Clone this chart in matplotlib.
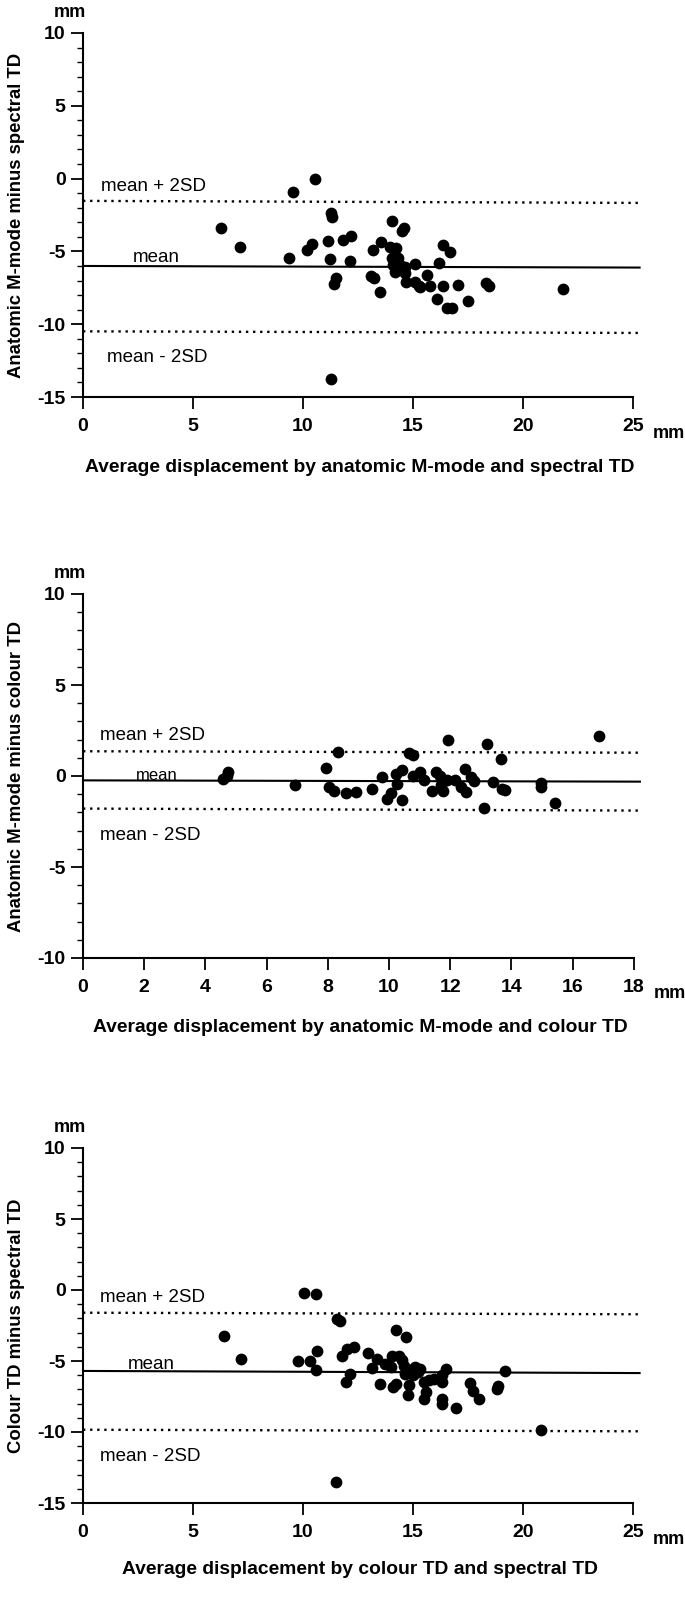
import numpy as np
import matplotlib
matplotlib.use("Agg")
import matplotlib.pyplot as plt
from matplotlib.ticker import MultipleLocator

plt.rcParams['font.family'] = ['Liberation Sans', 'DejaVu Sans']
plt.rcParams['axes.unicode_minus'] = False

# --- panel 1: anatomic M-mode minus spectral TD ---
avg_1 = [6.25, 7.12, 9.38, 9.54, 10.55, 10.18, 10.40, 11.13, 11.22, 11.25, 11.34, 11.49,
         11.39, 11.25, 11.82, 12.19, 12.15, 13.08, 13.22, 13.20, 13.55, 13.50, 14.05, 14.48,
         14.59, 13.95, 14.23, 14.03, 14.32, 14.10, 14.41, 14.64, 15.09, 14.18, 14.64, 14.70,
         15.09, 15.62, 16.20, 16.38, 16.68, 15.32, 15.77, 16.38, 17.06, 16.10, 16.53, 16.76,
         17.51, 18.32, 18.47, 21.80, 14.25, 15.25]
diff_1 = [-3.37, -4.70, -5.45, -0.90, -0.03, -4.93, -4.51, -4.29, -5.52, -2.34, -2.62, -6.80,
          -7.26, -13.76, -4.22, -3.94, -5.68, -6.71, -6.85, -4.90, -4.38, -7.78, -2.89, -3.58,
          -3.42, -4.68, -4.74, -5.48, -5.48, -5.93, -5.93, -6.05, -5.87, -6.39, -6.50, -7.08,
          -7.08, -6.62, -5.82, -4.56, -5.02, -7.47, -7.38, -7.38, -7.31, -8.27, -8.91, -8.91,
          -8.38, -7.19, -7.38, -7.60, -6.15, -7.35]
mean_1 = [-6.00, -6.11]
upper_1 = [-1.53, -1.67]
lower_1 = [-10.49, -10.60]

# --- panel 2: anatomic M-mode minus colour TD ---
avg_2 = [4.59, 4.69, 4.75, 6.93, 7.94, 8.34, 8.05, 8.21, 8.58, 8.91, 9.45, 9.76, 9.94, 10.06,
         10.22, 10.27, 10.44, 10.44, 10.65, 10.79, 10.79, 11.01, 11.14, 11.39, 11.55, 11.66,
         11.71, 11.77, 11.93, 11.88, 12.15, 12.34, 12.48, 12.53, 12.69, 12.78, 13.11, 13.20,
         13.39, 13.65, 13.68, 13.79, 14.97, 14.97, 15.44, 16.86]
diff_2 = [-0.18, 0.00, 0.22, -0.49, 0.46, 1.30, -0.58, -0.82, -0.91, -0.86, -0.69, -0.05, -1.24,
          -0.91, 0.13, -0.42, -1.33, 0.31, 1.28, 1.14, 0.00, 0.22, -0.22, -0.82, 0.22, 0.00,
          -0.50, -0.82, 1.96, -0.20, -0.20, -0.60, 0.37, -0.86, -0.04, -0.27, -1.77, 1.74,
          -0.31, 0.95, -0.72, -0.77, -0.37, -0.60, -1.46, 2.22]
mean_2 = [-0.24, -0.31]
upper_2 = [1.36, 1.28]
lower_2 = [-1.79, -1.90]

# --- panel 3: colour TD minus spectral TD ---
avg_3 = [6.42, 7.16, 9.76, 10.04, 10.58, 10.30, 10.62, 10.60, 11.56, 11.70, 11.50, 11.78,
         12.00, 12.30, 11.94, 12.14, 12.94, 13.14, 13.38, 13.50, 13.74, 13.98, 14.04, 14.24,
         14.68, 14.10, 14.24, 14.38, 14.48, 14.58, 14.64, 14.80, 14.76, 14.84, 15.00, 15.08,
         15.24, 15.34, 15.48, 15.60, 15.50, 15.74, 15.94, 16.30, 16.34, 16.30, 16.48, 16.34,
         16.94, 17.58, 17.74, 18.00, 18.80, 18.88, 19.20, 20.84]
diff_3 = [-3.26, -4.88, -5.00, -0.19, -0.28, -5.00, -4.32, -5.66, -2.02, -2.21, -13.50, -4.65,
          -4.15, -4.01, -6.50, -5.90, -4.44, -5.47, -4.88, -6.64, -5.23, -5.42, -4.67, -2.79,
          -3.31, -6.83, -6.60, -4.62, -4.95, -5.38, -5.89, -6.71, -7.42, -5.66, -6.00, -5.42,
          -5.77, -5.54, -6.48, -7.18, -7.70, -6.36, -6.24, -6.48, -7.65, -8.00, -5.54, -6.00,
          -8.31, -6.55, -7.14, -7.65, -6.95, -6.78, -5.73, -9.84]
mean_3 = [-5.70, -5.85]
upper_3 = [-1.60, -1.71]
lower_3 = [-9.84, -9.95]

W, H = 685, 1597
fig = plt.figure(figsize=(W / 100, H / 100), dpi=100)


def make_axes(left, top, bottom, x_unit, x_lim):
    width = x_unit * x_lim
    return fig.add_axes([left / W, 1 - bottom / H, width / W, (bottom - top) / H])


def draw(ax, avg, diff, mean, upper, lower, ylim, x_lim, xtick_max, xstep, line_end,
         ylabel, xlabel, notes, xlabel_off=-70):
    ax.set_xlim(0, x_lim)
    ax.set_ylim(*ylim)
    for s in ['top', 'right']:
        ax.spines[s].set_visible(False)
    ax.spines['left'].set_bounds(*ylim)
    ax.spines['bottom'].set_bounds(0, xtick_max)
    for s in ['left', 'bottom']:
        ax.spines[s].set_linewidth(1.5)

    ax.set_xticks(np.arange(0, xtick_max + 0.1, xstep))
    ax.yaxis.set_major_locator(MultipleLocator(5))
    ax.yaxis.set_minor_locator(MultipleLocator(1))
    ax.tick_params(axis='both', which='major', length=8.5, width=1.3, labelsize=14)
    ax.tick_params(axis='x', which='major', pad=6.5)
    ax.tick_params(axis='y', which='major', pad=4)
    ax.tick_params(axis='y', which='minor', length=4, width=1.0)
    for lab in ax.get_xticklabels() + ax.get_yticklabels():
        lab.set_fontweight('bold')

    ax.plot([0, line_end], mean, color='black', lw=1.5, clip_on=False)
    ax.plot([0, line_end], upper, color='black', lw=1.7, ls=(0, (1, 2.0)), clip_on=False)
    ax.plot([0, line_end], lower, color='black', lw=1.7, ls=(0, (1, 2.0)), clip_on=False)
    ax.scatter(avg, diff, s=72, color='black', linewidths=0, zorder=3, clip_on=False)

    for x, y, txt, size in notes:
        ax.text(x, y, txt, fontsize=size, ha='left', va='center')

    ax.annotate('mm', xy=(0, 1), xycoords='axes fraction', xytext=(-13, 20),
                textcoords='offset pixels', ha='center', va='center',
                fontsize=13, fontweight='bold')
    ax.annotate('mm', xy=(xtick_max, ylim[0]), xycoords='data', xytext=(36, -36),
                textcoords='offset pixels', ha='center', va='center',
                fontsize=13, fontweight='bold')
    ax.annotate(ylabel, xy=(0, 0.5), xycoords='axes fraction', xytext=(-66, 0),
                textcoords='offset pixels', ha='center', va='center', rotation=90,
                fontsize=13.3, fontweight='bold')
    ax.annotate(xlabel, xy=(xtick_max / 2, ylim[0]), xycoords='data', xytext=(2, xlabel_off),
                textcoords='offset pixels', ha='center', va='center',
                fontsize=13.9, fontweight='bold')


ax1 = make_axes(83, 33, 397, 22.0, 25.5)
draw(ax1, avg_1, diff_1, mean_1, upper_1, lower_1, (-15, 10), 25.5, 25, 5, 25.3,
     'Anatomic M-mode minus spectral TD',
     'Average displacement by anatomic M-mode and spectral TD',
     [(0.8, -0.55, 'mean + 2SD', 13.5), (2.25, -5.45, 'mean', 13.5),
      (1.1, -12.3, 'mean - 2SD', 13.5)])

ax2 = make_axes(83, 594, 958, 30.6, 18.3)
draw(ax2, avg_2, diff_2, mean_2, upper_2, lower_2, (-10, 10), 18.3, 18, 2, 18.2,
     'Anatomic M-mode minus colour TD',
     'Average displacement by anatomic M-mode and colour TD',
     [(0.55, 2.2, 'mean + 2SD', 13.5), (1.73, 0.05, 'mean', 12),
      (0.55, -3.25, 'mean - 2SD', 13.5)])

ax3 = make_axes(83, 1148, 1503, 22.0, 25.5)
draw(ax3, avg_3, diff_3, mean_3, upper_3, lower_3, (-15, 10), 25.5, 25, 5, 25.3,
     'Colour TD minus spectral TD',
     'Average displacement by colour TD and spectral TD',
     [(0.75, -0.55, 'mean + 2SD', 13.5), (2.05, -5.25, 'mean', 13.5),
      (0.75, -11.7, 'mean - 2SD', 13.5)], xlabel_off=-67)

fig.savefig('out.png', dpi=100)
